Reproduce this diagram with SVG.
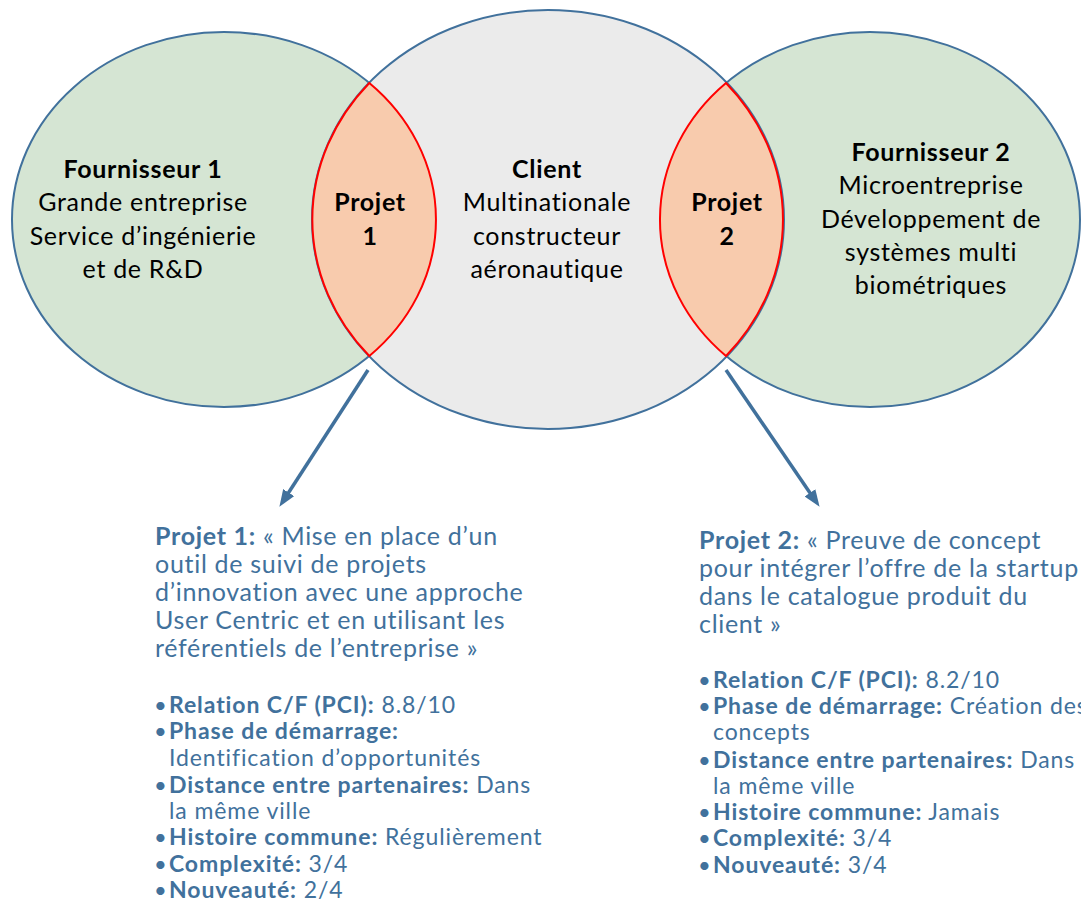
<svg xmlns="http://www.w3.org/2000/svg" width="1081" height="903" viewBox="0 0 1081 903">
<defs>
<style>
.outer{stroke:#41719C;stroke-width:2}
.green{fill:#D5E5D3}
.gray{fill:#EBEBEB}
.lens{fill:#F8CBAD;stroke:#FF0000;stroke-width:2}
.ct{font-family:Lato,"Liberation Sans",sans-serif;font-size:25px;letter-spacing:0.7px;fill:#000;text-anchor:middle}
.b{font-weight:bold}
.desc{font-family:Lato,"Liberation Sans",sans-serif;fill:#41719C}
.h{font-size:25px;letter-spacing:0.7px}
.l{font-size:23px;letter-spacing:0.9px}
.dot{font-family:Lato,"Liberation Sans",sans-serif;fill:#41719C;font-size:22px}
.conn{stroke:#41719C;stroke-width:3.5;fill:none;marker-end:url(#ah)}
</style>
<marker id="ah" markerUnits="userSpaceOnUse" markerWidth="18" markerHeight="14" refX="8" refY="6.5" orient="auto" viewBox="0 0 18 14">
<path d="M0,0 L17,6.5 L0,13 z" fill="#41719C"/>
</marker>
</defs>
<rect width="1081" height="903" fill="#fff"/>
<g id="fournisseur1">
<ellipse class="outer green" cx="224" cy="219.5" rx="212" ry="187.5"/>
</g>
<g id="fournisseur2">
<ellipse class="outer green" cx="870" cy="219.5" rx="210" ry="187.5"/>
</g>
<g id="client">
<ellipse class="outer gray" cx="548" cy="219.5" rx="236" ry="209.5"/>
</g>
<g id="projet1">
<path class="lens" d="M369.3,83 A212,187.5 0 0 1 369.3,356 A236,209.5 0 0 1 369.3,83 Z"/>
<text class="ct b" x="370" y="211">Projet</text>
<text class="ct b" x="370" y="245">1</text>
</g>
<g id="projet2">
<path class="lens" d="M726,83 A236,209.5 0 0 1 726,356 A210,187.5 0 0 1 726,83 Z"/>
<text class="ct b" x="727" y="211">Projet</text>
<text class="ct b" x="727" y="245">2</text>
</g>
<g id="labels-fournisseur1">
<text class="ct b" x="143" y="178">Fournisseur 1</text>
<text class="ct" x="143" y="211">Grande entreprise</text>
<text class="ct" x="143" y="245">Service d’ingénierie</text>
<text class="ct" x="143" y="278">et de R&amp;D</text>
</g>
<g id="labels-client">
<text class="ct b" x="547" y="178">Client</text>
<text class="ct" x="547" y="211">Multinationale</text>
<text class="ct" x="547" y="245">constructeur</text>
<text class="ct" x="547" y="278">aéronautique</text>
</g>
<g id="labels-fournisseur2">
<text class="ct b" x="931" y="161">Fournisseur 2</text>
<text class="ct" x="931" y="194">Microentreprise</text>
<text class="ct" x="931" y="228">Développement de</text>
<text class="ct" x="931" y="261">systèmes multi</text>
<text class="ct" x="931" y="294">biométriques</text>
</g>
<g id="connectors">
<path class="conn" d="M368,370 L284.3,499.3"/>
<path class="conn" d="M726,370 L814.5,499.4"/>
</g>
<g id="desc-projet1" class="desc">
<text class="h" x="155" y="545"><tspan class="b">Projet 1:</tspan> « Mise en place d’un</text>
<text class="h" x="155" y="573">outil de suivi de projets</text>
<text class="h" x="155" y="601">d’innovation avec une approche</text>
<text class="h" x="155" y="629">User Centric et en utilisant les</text>
<text class="h" x="155" y="657">référentiels de l’entreprise »</text>
<text class="dot" x="154" y="713">•</text>
<text class="l" x="169" y="713"><tspan class="b">Relation C/F (PCI):</tspan> 8.8/10</text>
<text class="dot" x="154" y="739">•</text>
<text class="l b" x="169" y="739">Phase de démarrage:</text>
<text class="l" x="169" y="766">Identification d’opportunités</text>
<text class="dot" x="154" y="793">•</text>
<text class="l" x="169" y="793"><tspan class="b">Distance entre partenaires:</tspan> Dans</text>
<text class="l" x="169" y="819">la même ville</text>
<text class="dot" x="154" y="845">•</text>
<text class="l" x="169" y="845"><tspan class="b">Histoire commune:</tspan> Régulièrement</text>
<text class="dot" x="154" y="872">•</text>
<text class="l" x="169" y="872"><tspan class="b">Complexité:</tspan> 3/4</text>
<text class="dot" x="154" y="898">•</text>
<text class="l" x="169" y="898"><tspan class="b">Nouveauté:</tspan> 2/4</text>
</g>
<g id="desc-projet2" class="desc">
<text class="h" x="699" y="549"><tspan class="b">Projet 2:</tspan> « Preuve de concept</text>
<text class="h" x="699" y="577">pour intégrer l’offre de la startup</text>
<text class="h" x="699" y="605">dans le catalogue produit du</text>
<text class="h" x="699" y="633">client »</text>
<text class="dot" x="698" y="688">•</text>
<text class="l" x="713" y="688"><tspan class="b">Relation C/F (PCI):</tspan> 8.2/10</text>
<text class="dot" x="698" y="714">•</text>
<text class="l" x="713" y="714"><tspan class="b">Phase de démarrage:</tspan> Création des</text>
<text class="l" x="713" y="740">concepts</text>
<text class="dot" x="698" y="768">•</text>
<text class="l" x="713" y="768"><tspan class="b">Distance entre partenaires:</tspan> Dans</text>
<text class="l" x="713" y="794">la même ville</text>
<text class="dot" x="698" y="820">•</text>
<text class="l" x="713" y="820"><tspan class="b">Histoire commune:</tspan> Jamais</text>
<text class="dot" x="698" y="846">•</text>
<text class="l" x="713" y="846"><tspan class="b">Complexité:</tspan> 3/4</text>
<text class="dot" x="698" y="873">•</text>
<text class="l" x="713" y="873"><tspan class="b">Nouveauté:</tspan> 3/4</text>
</g>
</svg>
